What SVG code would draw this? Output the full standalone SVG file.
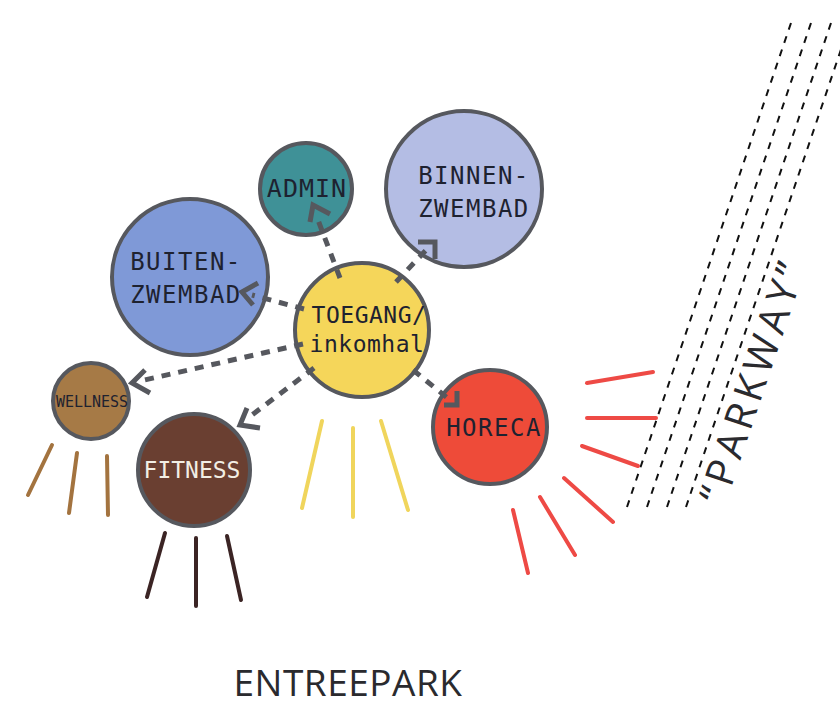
<svg xmlns="http://www.w3.org/2000/svg" width="840" height="707" viewBox="0 0 840 707">
<style>
.node{stroke:#56585e;stroke-width:4}
.lbl{font-family:"DejaVu Sans Mono","Liberation Mono",monospace;fill:#1e2230;text-anchor:middle}
.ray{stroke-width:4;stroke-linecap:round;fill:none}
.conn{stroke:#56585e;stroke-width:5;stroke-dasharray:9 8;fill:none}
.head{stroke:#56585e;stroke-width:5;fill:none;stroke-linejoin:miter;stroke-linecap:butt}
.road{stroke:#111;stroke-width:2;stroke-dasharray:7 7;fill:none}
.big{font-family:"Open Sans","DejaVu Sans",sans-serif;fill:#2a2a2e}
</style>
<rect width="840" height="707" fill="#ffffff"/>

<g id="parkway">
<line class="road" x1="627" y1="507" x2="792" y2="20"/>
<line class="road" x1="647" y1="507" x2="812" y2="20"/>
<line class="road" x1="667" y1="507" x2="832" y2="20"/>
<line class="road" x1="686" y1="507" x2="851" y2="20"/>
<text class="big" font-size="40" letter-spacing="5" text-anchor="middle" transform="translate(766,385) rotate(-71.3)">“PARKWAY”</text>
</g>

<g id="rays">
<g stroke="#f0d55c">
<line class="ray" x1="322" y1="421" x2="302" y2="508"/>
<line class="ray" x1="353" y1="428" x2="353" y2="517"/>
<line class="ray" x1="381" y1="421" x2="408" y2="510"/>
</g>
<g stroke="#ee4a45">
<line class="ray" x1="587" y1="383" x2="653" y2="372"/>
<line class="ray" x1="587" y1="418" x2="656" y2="418"/>
<line class="ray" x1="582" y1="446" x2="638" y2="466"/>
<line class="ray" x1="564" y1="478" x2="613" y2="522"/>
<line class="ray" x1="540" y1="497" x2="575" y2="555"/>
<line class="ray" x1="513" y1="510" x2="528" y2="573"/>
</g>
<g stroke="#a3733f">
<line class="ray" x1="52" y1="445" x2="28" y2="495"/>
<line class="ray" x1="77" y1="453" x2="69" y2="513"/>
<line class="ray" x1="107" y1="456" x2="108" y2="515"/>
</g>
<g stroke="#3b2424">
<line class="ray" x1="165" y1="533" x2="147" y2="597"/>
<line class="ray" x1="196" y1="538" x2="196" y2="606"/>
<line class="ray" x1="227" y1="536" x2="241" y2="600"/>
</g>
</g>

<g id="admin">
<circle class="node" cx="306" cy="189" r="46" fill="#3f9197"/>
<text class="lbl" x="307" y="197" font-size="25" letter-spacing="1">ADMIN</text>
</g>
<g id="binnenzwembad">
<circle class="node" cx="464" cy="189" r="78" fill="#b4bde4"/>
<text class="lbl" x="474" y="184" font-size="24" letter-spacing="1.5">BINNEN-</text>
<text class="lbl" x="474" y="217" font-size="24" letter-spacing="1.5">ZWEMBAD</text>
</g>
<g id="buitenzwembad">
<circle class="node" cx="190" cy="277" r="78" fill="#7f99d7"/>
<text class="lbl" x="186" y="270" font-size="24" letter-spacing="1.5">BUITEN-</text>
<text class="lbl" x="186" y="303" font-size="24" letter-spacing="1.5">ZWEMBAD</text>
</g>
<g id="toegang">
<circle class="node" cx="362" cy="330" r="67" fill="#f5d65a"/>
<text class="lbl" x="369" y="323" font-size="23" letter-spacing="0.5">TOEGANG/</text>
<text class="lbl" x="367" y="352" font-size="23" letter-spacing="0.5">inkomhal</text>
</g>
<g id="horeca">
<circle class="node" cx="490" cy="427" r="57" fill="#ee4b39"/>
<text class="lbl" x="494" y="436" font-size="24" letter-spacing="1.5">HORECA</text>
</g>
<g id="wellness">
<circle class="node" cx="91" cy="401" r="38" fill="#a67a46"/>
<text class="lbl" x="92" y="407" font-size="15">WELLNESS</text>
</g>
<g id="fitness">
<circle class="node" cx="194" cy="470" r="56" fill="#6a3f31"/>
<text class="lbl" x="192" y="478" font-size="23" style="fill:#f2eee4">FITNESS</text>
</g>

<g id="connectors">
<line class="conn" x1="340" y1="278" x2="318" y2="220"/>
<path class="head" d="M330,214 L313,205 L310,222"/>
<line class="conn" x1="396" y1="282" x2="428" y2="248"/>
<path class="head" d="M418,242 L435,242 L435,259"/>
<line class="conn" x1="304" y1="309" x2="252" y2="295"/>
<path class="head" d="M258,283 L242,292 L253,305"/>
<line class="conn" x1="303" y1="344" x2="140" y2="381"/>
<path class="head" d="M145,370 L132,383 L150,393"/>
<line class="conn" x1="314" y1="368" x2="248" y2="418"/>
<path class="head" d="M247,408 L240,425 L260,428"/>
<line class="conn" x1="413" y1="370" x2="450" y2="400"/>
<path class="head" d="M444,405 L457,405 L457,391"/>
</g>

<text class="big" x="348" y="696" font-size="37" text-anchor="middle" letter-spacing="0.5">ENTREEPARK</text>
</svg>
